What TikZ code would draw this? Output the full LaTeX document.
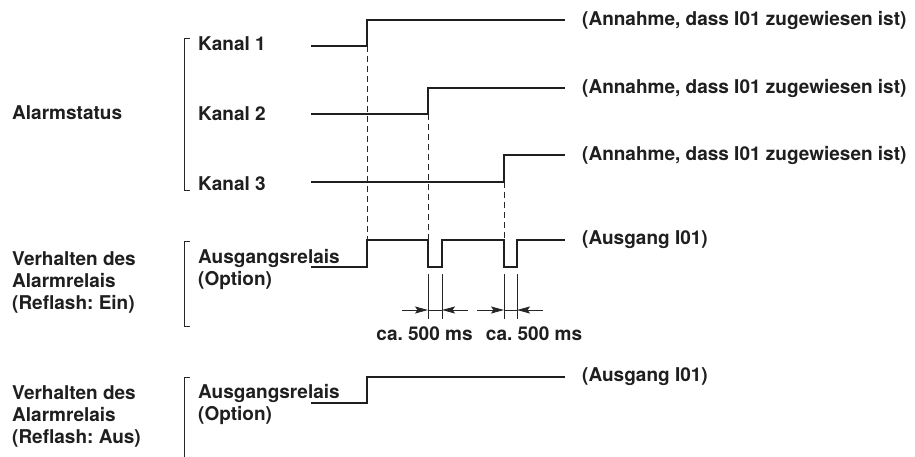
\documentclass[tikz,border=0pt]{standalone}
\usepackage{fontspec}
\setmainfont{TeX Gyre Heros}
\usetikzlibrary{arrows.meta}
\frenchspacing
\begin{document}
\begin{tikzpicture}[x=1pt,y=-1pt,
  lbl/.style={font=\fontsize{19}{22}\selectfont\bfseries\frenchspacing, inner sep=0pt, anchor=west, align=left, text=black!88},
  mlbl/.style={lbl, anchor=center},
  wave/.style={line width=1.7pt, line join=miter, draw=black!88},
  guide/.style={line width=0.8pt, draw=black!85, dash pattern=on 6pt off 4pt},
  bracketline/.style={line width=0.8pt, draw=black!85},
  dimline/.style={line width=0.8pt, draw=black!85},
  dimarrow/.style={line width=0.8pt, draw=black!85, -{Stealth[length=13pt,width=7pt,inset=2.5pt]}}]
\useasboundingbox[fill=white] (0,0) rectangle (915,457);

% left labels
\node[lbl] (alarm) at (12,113) {Alarmstatus};
\node[lbl] (k1) at (198,44) {Kanal 1};
\node[lbl] (k2) at (198,114) {Kanal 2};
\node[lbl] (k3) at (198,184) {Kanal 3};
\node[lbl] (vein) at (12,282) {Verhalten des\\Alarmrelais\\(Reflash: Ein)};
\node[lbl] (aein) at (198,269) {Ausgangsrelais\\(Option)};
\node[lbl] (vaus) at (12,416) {Verhalten des\\Alarmrelais\\(Reflash: Aus)};
\node[lbl] (aaus) at (198,404) {Ausgangsrelais\\(Option)};

% brackets
\draw[bracketline] (190,38) -- (184,38) -- (184,190) -- (190,190);
\draw[bracketline] (190,241) -- (184,241) -- (184,326) -- (190,326);
\draw[bracketline] (190,377) -- (184,377) -- (184,457);

% right labels
\node[lbl] (n1) at (582,20) {(Annahme, dass I01 zugewiesen ist)};
\node[lbl] (n2) at (582,88) {(Annahme, dass I01 zugewiesen ist)};
\node[lbl] (n3) at (582,155) {(Annahme, dass I01 zugewiesen ist)};
\node[lbl] (o1) at (582,240) {(Ausgang I01)};
\node[lbl] (o2) at (582,377) {(Ausgang I01)};

% edge coordinates
\coordinate (e1) at (367,46);
\coordinate (e2) at (428,114);
\coordinate (e3) at (504,182);
\coordinate (r1) at (367,240);
\coordinate (r2) at (428,240);
\coordinate (r3) at (504,240);

% waveforms
\draw[wave] (311,46) -- (e1) -- (367,20) -- (565,20);
\draw[wave] (311,114) -- (e2) -- (428,88) -- (565,88);
\draw[wave] (311,182) -- (e3) -- (504,155) -- (565,155);
\draw[wave] (311,267) -- (367,267) -- (r1) -- (r2) -- (428,267) -- (442,267) -- (442,240)
  -- (r3) -- (504,267) -- (517,267) -- (517,240) -- (565,240);
\draw[wave] (311,403) -- (367,403) -- (367,377) -- (565,377);

% dashed guides
\draw[guide] (e1) -- (r1);
\draw[guide] (e2) -- (r2);
\draw[guide] (e3) -- (r3);

% dimension lines
\coordinate (d1a) at (428,274); \coordinate (d1b) at (428,319);
\coordinate (d2a) at (442,274); \coordinate (d2b) at (442,319);
\coordinate (d3a) at (504,274); \coordinate (d3b) at (504,319);
\coordinate (d4a) at (517,274); \coordinate (d4b) at (517,319);
\draw[dimline] (d1a) -- (d1b);
\draw[dimline] (d2a) -- (d2b);
\draw[dimline] (d3a) -- (d3b);
\draw[dimline] (d4a) -- (d4b);
\coordinate (a1) at (402,310); \coordinate (t1) at (428,310);
\coordinate (a2) at (468,310); \coordinate (t2) at (442,310);
\coordinate (a3) at (477,310); \coordinate (t3) at (504,310);
\coordinate (a4) at (543,310); \coordinate (t4) at (517,310);
\draw[dimline] (t1) -- (t2);
\draw[dimline] (t3) -- (t4);
\draw[dimarrow] (a1) -- (t1);
\draw[dimarrow] (a2) -- (t2);
\draw[dimarrow] (a3) -- (t3);
\draw[dimarrow] (a4) -- (t4);
\node[mlbl] (c1) at (424.5,334) {ca. 500 ms};
\node[mlbl] (c2) at (534,334) {ca. 500 ms};
\end{tikzpicture}
\end{document}
